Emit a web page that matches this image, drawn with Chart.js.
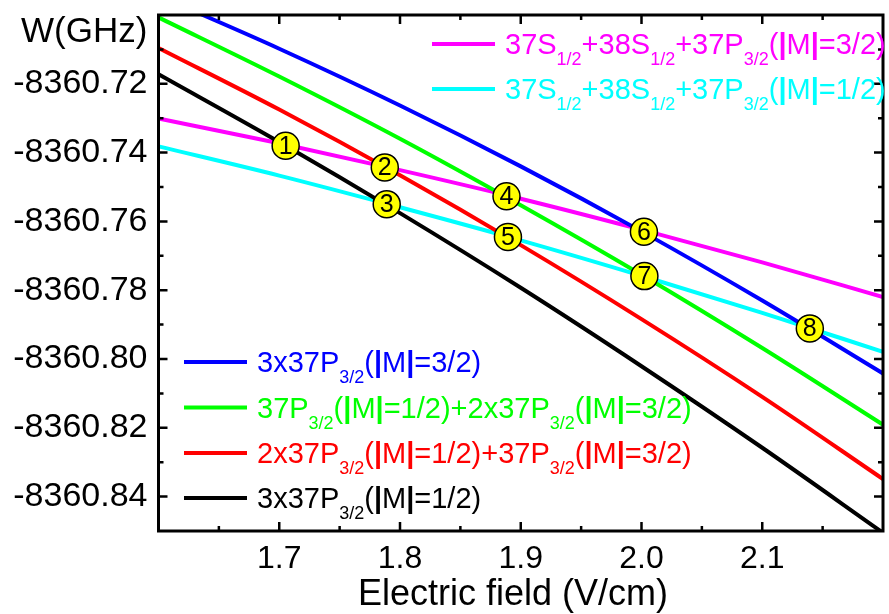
<!DOCTYPE html>
<html><head><meta charset="utf-8">
<script src="https://cdn.jsdelivr.net/npm/chart.js@4.4.0/dist/chart.umd.min.js"></script>
<style>html,body{margin:0;padding:0;overflow:hidden;background:#fff}canvas{display:block}</style>
</head><body>
<canvas id="c" width="898" height="614"></canvas>
<script>
// ---- data ----
const fieldE = [1.6, 1.7, 1.8, 1.9, 2.0, 2.1, 2.2];
const w3x37P_M32      = [-8360.6944, -8360.7098, -8360.7263, -8360.7440, -8360.7629, -8360.7830, -8360.8042];
const w37P_M12_2x_M32 = [-8360.7007, -8360.7179, -8360.7360, -8360.7553, -8360.7755, -8360.7968, -8360.8191];
const w2x37P_M12_M32  = [-8360.7096, -8360.7275, -8360.7466, -8360.7669, -8360.7884, -8360.8110, -8360.8349];
const w3x37P_M12      = [-8360.7172, -8360.7369, -8360.7576, -8360.7793, -8360.8021, -8360.8258, -8360.8505];
const wSSP_M32        = [-8360.7301, -8360.7373, -8360.7451, -8360.7534, -8360.7624, -8360.7719, -8360.7820];
const wSSP_M12        = [-8360.7382, -8360.7467, -8360.7559, -8360.7655, -8360.7758, -8360.7866, -8360.7979];

const crossE = [1.7053, 1.7874, 1.7890, 1.8882, 1.8894, 2.0020, 2.0024, 2.1394];
const crossW = [-8360.7380, -8360.7443, -8360.7550, -8360.7527, -8360.7645, -8360.7630, -8360.7759, -8360.7911];
const crossLabels = ['1','2','3','4','5','6','7','8'];

const xTickValues = [1.7, 1.8, 1.9, 2.0, 2.1];
const xTickLabels = ['1.7', '1.8', '1.9', '2.0', '2.1'];
const xMinorValues = [1.65, 1.75, 1.85, 1.95, 2.05, 2.15];
const yTickValues = [-8360.72, -8360.74, -8360.76, -8360.78, -8360.80, -8360.82, -8360.84];
const yTickLabels = ['-8360.72', '-8360.74', '-8360.76', '-8360.78', '-8360.80', '-8360.82', '-8360.84'];
const yMinorValues = [-8360.71, -8360.73, -8360.75, -8360.77, -8360.79, -8360.81, -8360.83];

const seriesLabels = [
  ['3x37P', '_3/2', '(|M|=3/2)'],
  ['37P', '_3/2', '(|M|=1/2)+2x37P', '_3/2', '(|M|=3/2)'],
  ['2x37P', '_3/2', '(|M|=1/2)+37P', '_3/2', '(|M|=3/2)'],
  ['3x37P', '_3/2', '(|M|=1/2)'],
  ['37S', '_1/2', '+38S', '_1/2', '+37P', '_3/2', '(|M|=3/2)'],
  ['37S', '_1/2', '+38S', '_1/2', '+37P', '_3/2', '(|M|=1/2)']
];
const seriesColors = ['#0000ff', '#00ff00', '#ff0000', '#000000', '#ff00ff', '#00ffff'];
const seriesData = [w3x37P_M32, w37P_M12_2x_M32, w2x37P_M12_M32, w3x37P_M12, wSSP_M32, wSSP_M12];

const FONT = '"Liberation Sans", Arial, Helvetica, sans-serif';

const lineSets = seriesData.map((arr, k) => ({
  type: 'line',
  data: fieldE.map((e, i) => ({x: e, y: arr[i]})),
  borderColor: seriesColors[k],
  backgroundColor: seriesColors[k],
  borderWidth: 4,
  pointRadius: 0,
  cubicInterpolationMode: 'monotone',
  fill: false,
  clip: 0,
  order: 1
}));

const markerSet = {
  type: 'line',
  showLine: false,
  data: crossE.map((e, i) => ({x: e, y: crossW[i]})),
  pointRadius: 13.5,
  pointBackgroundColor: '#ffff00',
  pointBorderColor: '#000000',
  pointBorderWidth: 1.5,
  order: 0
};

function drawRich(ctx, x, yBase, parts, color, size) {
  ctx.fillStyle = color;
  ctx.textBaseline = 'alphabetic';
  ctx.textAlign = 'left';
  let cx = x;
  parts.forEach(p => {
    if (p.startsWith('_')) {
      const s = p.slice(1);
      ctx.font = `${Math.round(size * 0.62)}px ${FONT}`;
      ctx.fillText(s, cx, yBase + 11);
      cx += ctx.measureText(s).width;
    } else {
      for (const ch of p) {
        ctx.font = (ch === '|' ? 'bold ' : '') + `${size}px ${FONT}`;
        ctx.fillText(ch, cx, yBase);
        cx += ctx.measureText(ch).width;
      }
    }
  });
}

const decor = {
  id: 'decor',
  afterDraw(chart) {
    const ctx = chart.ctx;
    const a = chart.chartArea;
    const xs = chart.scales.x, ys = chart.scales.y;
    ctx.save();
    // frame
    ctx.strokeStyle = '#000';
    ctx.lineWidth = 3;
    ctx.strokeRect(a.left, a.top, a.right - a.left, a.bottom - a.top);
    ctx.lineWidth = 2.5;
    ctx.beginPath();
    const tick = (vals, len, horiz) => {
      vals.forEach(v => {
        if (horiz) {
          const px = xs.getPixelForValue(v);
          ctx.moveTo(px, a.bottom); ctx.lineTo(px, a.bottom - len);
          ctx.moveTo(px, a.top); ctx.lineTo(px, a.top + len);
        } else {
          const py = ys.getPixelForValue(v);
          ctx.moveTo(a.left, py); ctx.lineTo(a.left + len, py);
          ctx.moveTo(a.right, py); ctx.lineTo(a.right - len, py);
        }
      });
    };
    tick(xTickValues, 9, true);
    tick(xMinorValues, 5, true);
    tick(yTickValues, 9, false);
    tick(yMinorValues, 5, false);
    ctx.stroke();

    // marker numbers
    const meta = chart.getDatasetMeta(chart.data.datasets.length - 1);
    ctx.fillStyle = '#000';
    ctx.font = `25px ${FONT}`;
    ctx.textAlign = 'center';
    ctx.textBaseline = 'middle';
    meta.data.forEach((pt, i) => ctx.fillText(crossLabels[i], pt.x, pt.y + 1));

    // legends
    const leg = [
      {k: 4, x: 432, y: 44}, {k: 5, x: 432, y: 89},
      {k: 0, x: 184, y: 362}, {k: 1, x: 184, y: 407.5}, {k: 2, x: 184, y: 453}, {k: 3, x: 184, y: 498}
    ];
    leg.forEach(l => {
      ctx.strokeStyle = seriesColors[l.k];
      ctx.lineWidth = 4;
      ctx.beginPath();
      ctx.moveTo(l.x, l.y); ctx.lineTo(l.x + 63, l.y);
      ctx.stroke();
      drawRich(ctx, l.x + 73, l.y + 10, seriesLabels[l.k], seriesColors[l.k], 29);
    });

    // axis titles
    ctx.fillStyle = '#000';
    ctx.textAlign = 'left';
    ctx.textBaseline = 'alphabetic';
    ctx.font = `35px ${FONT}`;
    ctx.fillText('W(GHz)', 21, 42);
    ctx.textAlign = 'center';
    ctx.font = `36px ${FONT}`;
    ctx.fillText('Electric field (V/cm)', 513, 605);
    ctx.restore();
  }
};

new Chart(document.getElementById('c'), {
  type: 'line',
  data: {datasets: [...lineSets, markerSet]},
  options: {
    responsive: false,
    animation: false,
    devicePixelRatio: 1,
    layout: {padding: {top: 7, right: 1.5, left: 0, bottom: 0}},
    plugins: {legend: {display: false}, tooltip: {enabled: false}},
    scales: {
      x: {
        type: 'linear', min: 1.6, max: 2.2,
        afterBuildTicks: s => { s.ticks = xTickValues.map(v => ({value: v})); },
        afterFit: s => { s.height = 83; s.paddingLeft = 0; s.paddingRight = 0; },
        grid: {display: false, drawTicks: false},
        border: {display: false},
        ticks: {autoSkip: false, maxRotation: 0, padding: 9, color: '#000',
                font: {family: FONT, size: 32},
                callback: (v, i) => xTickLabels[i]}
      },
      y: {
        type: 'linear', min: -8360.85, max: -8360.70,
        afterBuildTicks: s => { s.ticks = yTickValues.map(v => ({value: v})); },
        afterFit: s => { s.width = 158.5; s.paddingTop = 0; s.paddingBottom = 0; },
        grid: {display: false, drawTicks: false},
        border: {display: false},
        ticks: {autoSkip: false, padding: 11, color: '#000',
                font: {family: FONT, size: 34},
                callback: (v, i) => yTickLabels[i]}
      }
    }
  },
  plugins: [decor]
});
</script>
</body></html>
